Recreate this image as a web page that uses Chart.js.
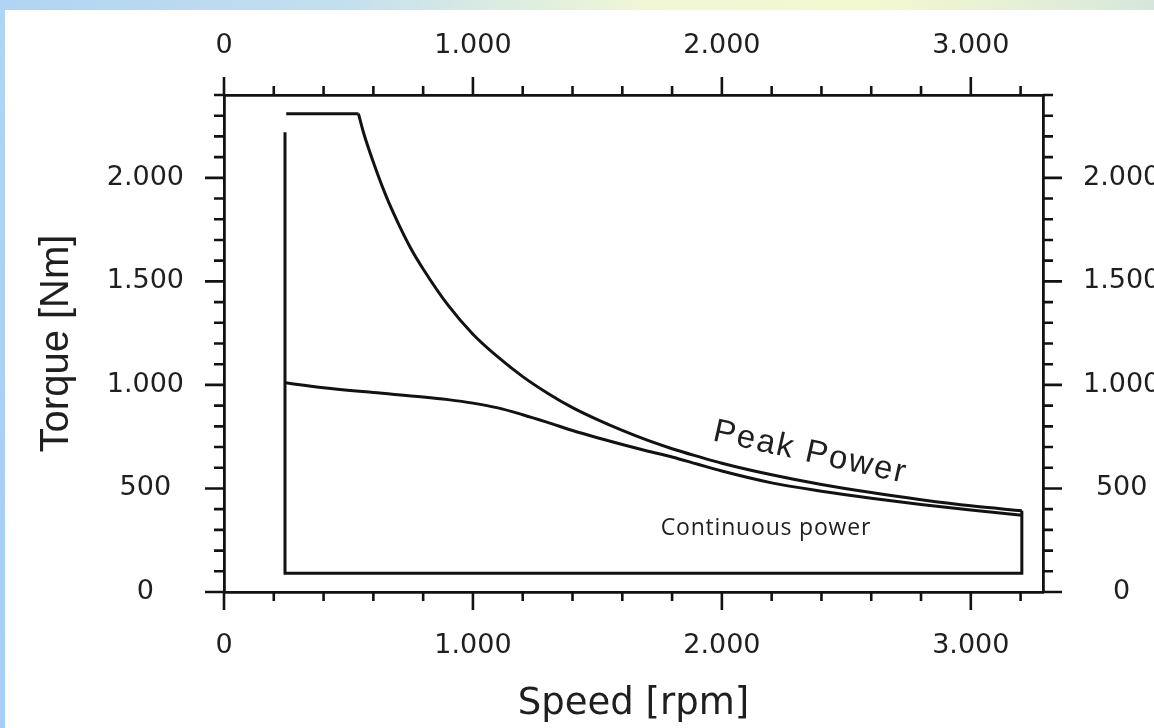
<!DOCTYPE html>
<html>
<head>
<meta charset="utf-8">
<title>Torque vs speed</title>
<script src="https://cdn.jsdelivr.net/npm/chart.js@4.4.1/dist/chart.umd.min.js"></script>
<style>
  html, body { margin: 0; padding: 0; background: #ffffff; overflow: hidden; }
  #topband { position: absolute; left: 0; top: 0; width: 1154px; height: 10px;
    background: linear-gradient(to right, #b0d4f4 0%, #c4dfee 30%, #eef6d6 55%, #f4f8d0 75%, #e6f0d6 88%, #d6e6dc 100%); }
  #leftband { position: absolute; left: 0; top: 0; width: 5px; height: 728px;
    background: linear-gradient(to bottom, #b0d4f3 0%, #aad0f6 50%, #a6cef8 100%); }
  #wrap { position: absolute; left: 0; top: 0; width: 1154px; height: 728px; }
</style>
</head>
<body>
<div id="topband"></div>
<div id="leftband"></div>
<div id="wrap"><canvas id="myChart"></canvas></div>
<script>
// values (speed in rpm, torque in Nm)
var outlineSpeed = [245, 245, 3205, 3205];
var outlineTorque = [2220, 90, 90, 392];

var flatSpeed = [250, 540];
var flatTorque = [2310, 2310];

var peakSpeed = [540, 560, 600, 650, 700, 750, 800, 900, 1000, 1100, 1200, 1300, 1400, 1500, 1600, 1700, 1800, 1900, 2000, 2200, 2400, 2600, 2800, 3000, 3205];
var peakTorque = [2310, 2220, 2075, 1915, 1780, 1660, 1560, 1385, 1245, 1135, 1040, 960, 890, 832, 780, 733, 692, 656, 622, 566, 519, 480, 446, 416, 392];

var contSpeed = [245, 400, 600, 800, 900, 1000, 1100, 1200, 1300, 1400, 1500, 1600, 1700, 1800, 1900, 2000, 2200, 2400, 2600, 2800, 3000, 3205];
var contTorque = [1010, 986, 963, 942, 929, 912, 889, 856, 819, 780, 745, 712, 681, 652, 618, 584, 527, 487, 453, 423, 396, 371];

var xTickValues = [0, 1000, 2000, 3000];
var xTickLabels = ['0', '1.000', '2.000', '3.000'];
var yTickValues = [0, 500, 1000, 1500, 2000];
var yTickLabels = ['0', '500', '1.000', '1.500', '2.000'];

var xMax = 3290;
var yMax = 2400;
var lineColor = '#121212';
var textColor = '#1f1f1f';

function points(xs, ys) {
    var out = [];
    for (var i = 0; i < xs.length; i++) {
        out.push({x: xs[i], y: ys[i]});
    }
    return out;
}

function curve(xs, ys, smooth) {
    return {
        data: points(xs, ys),
        showLine: true,
        borderColor: lineColor,
        borderWidth: 3,
        pointRadius: 0,
        fill: false,
        cubicInterpolationMode: smooth ? 'monotone' : 'default',
        tension: 0
    };
}

var tickFont = {family: 'DejaVu Sans', size: 27};

function xAxis(pos, h, pad) {
    return {
        type: 'linear', position: pos, min: 0, max: xMax,
        afterBuildTicks: function (s) { s.ticks = xTickValues.map(function (v) { return {value: v}; }); },
        afterFit: function (s) { s.height = h; },
        ticks: {
            autoSkip: false, maxRotation: 0, padding: pad, color: textColor, font: tickFont,
            callback: function (v) { return xTickLabels[xTickValues.indexOf(v)]; }
        },
        grid: {display: false, drawTicks: false},
        border: {display: true, color: lineColor, width: 2.8}
    };
}

function yAxis(pos, w, pad) {
    return {
        type: 'linear', position: pos, min: 0, max: yMax,
        afterBuildTicks: function (s) { s.ticks = yTickValues.map(function (v) { return {value: v}; }); },
        afterFit: function (s) { s.width = w; },
        ticks: {
            autoSkip: false, padding: pad, crossAlign: 'center', color: textColor, font: tickFont,
            callback: function (v) { return yTickLabels[yTickValues.indexOf(v)]; }
        },
        grid: {display: false, drawTicks: false},
        border: {display: true, color: lineColor, width: 2.8}
    };
}

// major and minor tick marks on all four sides
var frameTicks = {
    id: 'frameTicks',
    afterDraw: function (chart) {
        var ctx = chart.ctx;
        var a = chart.chartArea;
        var x = chart.scales.x, y = chart.scales.y;
        ctx.save();
        ctx.strokeStyle = lineColor;
        ctx.lineWidth = 2.6;
        ctx.beginPath();
        for (var v = 0; v <= xMax; v += 200) {
            var len = v % 1000 === 0 ? 18 : 9;
            var px = x.getPixelForValue(v);
            ctx.moveTo(px, a.bottom); ctx.lineTo(px, a.bottom + len);
            ctx.moveTo(px, a.top); ctx.lineTo(px, a.top - len);
        }
        for (var t = 0; t <= yMax; t += 100) {
            var l2 = t % 500 === 0 ? 19 : 10;
            var py = y.getPixelForValue(t);
            ctx.moveTo(a.left, py); ctx.lineTo(a.left - l2, py);
            ctx.moveTo(a.right, py); ctx.lineTo(a.right + l2, py);
        }
        ctx.stroke();
        ctx.restore();
    }
};

// curve names written inside the plot
var curveNotes = {
    id: 'curveNotes',
    afterDatasetsDraw: function (chart) {
        var ctx = chart.ctx;
        var x = chart.scales.x, y = chart.scales.y;
        ctx.save();
        ctx.fillStyle = textColor;
        ctx.textAlign = 'center';
        ctx.textBaseline = 'middle';

        ctx.save();
        ctx.translate(x.getPixelForValue(2355), y.getPixelForValue(672));
        ctx.rotate(12.5 * Math.PI / 180);
        ctx.font = '33px "Liberation Sans"';
        ctx.letterSpacing = '2px';
        ctx.fillText('Peak Power', 0, 0);
        ctx.restore();

        ctx.font = '23px "Open Sans"';
        ctx.letterSpacing = '0.8px';
        ctx.fillText('Continuous power', x.getPixelForValue(2177), y.getPixelForValue(306));
        ctx.restore();
    }
};

var ctx = document.getElementById('myChart').getContext('2d');
var chart = new Chart(ctx, {
    type: 'scatter',
    data: {
        datasets: [
            curve(outlineSpeed, outlineTorque, false),
            curve(flatSpeed, flatTorque, false),
            curve(peakSpeed, peakTorque, true),
            curve(contSpeed, contTorque, true)
        ]
    },
    options: {
        responsive: true,
        maintainAspectRatio: false,
        animation: false,
        layout: {padding: 0},
        plugins: {legend: {display: false}, tooltip: {enabled: false}},
        scales: {
            x: Object.assign(xAxis('bottom', 136, 38), {
                title: {display: true, text: 'Speed [rpm]', color: textColor,
                    font: {family: 'DejaVu Sans', size: 37}, padding: {top: 0, bottom: 1}}
            }),
            x2: xAxis('top', 95, 33),
            y: Object.assign(yAxis('left', 224, 40), {
                title: {display: true, text: 'Torque [Nm]', color: textColor,
                    font: {family: 'Liberation Sans', size: 40}, padding: {top: 33, bottom: 0}}
            }),
            y2: yAxis('right', 111, 40)
        }
    },
    plugins: [frameTicks, curveNotes]
});
</script>
</body>
</html>
